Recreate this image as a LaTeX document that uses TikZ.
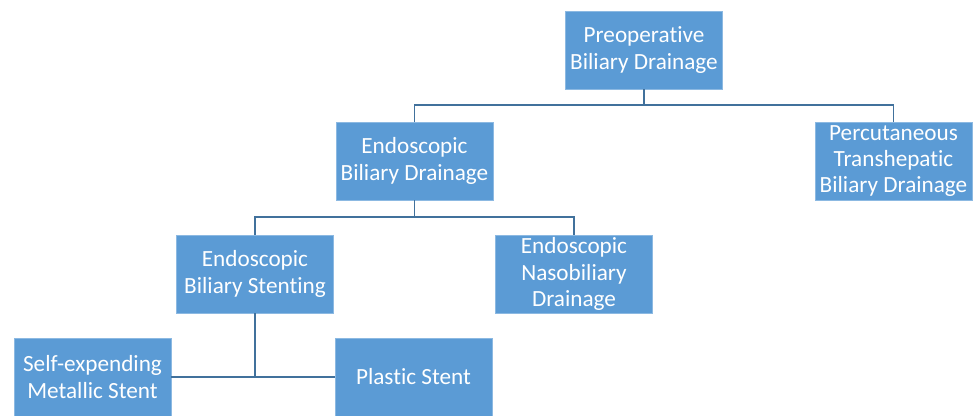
\documentclass[tikz,border=0pt]{standalone}
\usepackage{fontspec}
\setmainfont{Carlito}[Ligatures=NoCommon]
\definecolor{boxblue}{HTML}{5B9BD5}
\definecolor{lineblue}{HTML}{41719C}
\begin{document}
\begin{tikzpicture}[x=0.75pt,y=-0.75pt,
  box/.style={fill=boxblue,draw=boxblue!70!white,line width=0.4pt,text=white,
    minimum width=117.75pt,minimum height=58.5pt,inner sep=0pt,align=center,
    font=\fontsize{17.4pt}{19.6pt}\selectfont},
  conn/.style={draw=lineblue,line width=1.3pt}]
\useasboundingbox (0,0) rectangle (976,415);
\fill[white] (0,0) rectangle (976,415);
\node[box] (pbd) at (644,50) {Preoperative\\Biliary Drainage};
\node[box] (ebd) at (414.5,161) {Endoscopic\\Biliary Drainage};
\node[box] (ptbd) at (893.5,161) {Percutaneous\\Transhepatic\\Biliary Drainage};
\node[box] (ebs) at (255,274) {Endoscopic\\Biliary Stenting};
\node[box] (enbd) at (574,274) {Endoscopic\\Nasobiliary\\Drainage};
\node[box] (sems) at (92.5,377) {Self-expending\\Metallic Stent};
\node[box] (ps) at (413.5,377) {Plastic Stent};
\path[conn] (pbd.south) |- (414.5,105) coordinate (b1) -- (ebd.north);
\path[conn] (b1) -- (893.5,105) -- (ptbd.north);
\path[conn] (ebd.south) -- (414.5,217);
\path[conn] (ebs.north) |- (574,217) coordinate (b2) -- (enbd.north);
\path[conn] (ebs.south) -- (255,377);
\path[conn] (sems.east) -- (ps.west);
\end{tikzpicture}
\end{document}
